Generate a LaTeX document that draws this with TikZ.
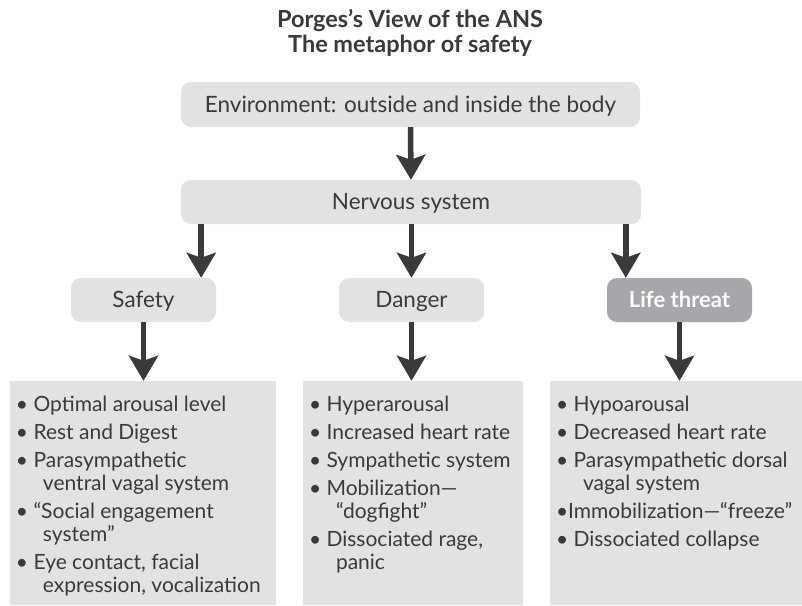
\documentclass[tikz,border=0pt]{standalone}
\usepackage{fontspec}
\setmainfont{Lato}
\usetikzlibrary{arrows.meta,calc}
\definecolor{boxgray}{HTML}{E1E2E4}
\definecolor{darkgray}{HTML}{A6A7AA}
\definecolor{ink}{HTML}{3A3A3A}
\definecolor{arrowc}{HTML}{3A3A3A}
\tikzset{
  rbox/.style={fill=boxgray, rounded corners=10pt, inner sep=0pt, text=ink,
    text height=20pt, text depth=5pt,
    font=\fontsize{22.5}{26}\selectfont},
  listbox/.style={fill=boxgray, inner sep=0pt},
  listtext/.style={inner sep=0pt, align=left, text=ink, anchor=north west,
    font=\fontsize{21}{23}\selectfont},
  bigarrow/.style={draw=arrowc, line width=5.5pt,
    -{Stealth[length=25pt,width=29pt,inset=5pt]}},
}
\newcommand{\ind}{\makebox[27pt]{}}
\begin{document}
\begin{tikzpicture}[x=1pt,y=-1pt]
\useasboundingbox (0,0) rectangle (802,605);
\fill[white] (0,0) rectangle (802,605);
% title
\node[font=\bfseries\fontsize{23.5}{25}\selectfont, text=ink, align=center, inner sep=0pt] (title) at (410,33)
  {Porges’s View of the ANS\\The metaphor of safety};
% top boxes
\node[rbox, minimum width=459pt, minimum height=45pt] (env) at (410.5,104.5) {Environment: outside and inside the body};
\node[rbox, minimum width=460pt, minimum height=44pt] (nerv) at (411,202) {Nervous system};
% middle boxes
\node[rbox, minimum width=145pt, minimum height=44pt] (safety) at (143.5,300) {Safety};
\node[rbox, minimum width=145pt, minimum height=44pt] (danger) at (411.5,300) {Danger};
\node[rbox, fill=darkgray, text=white, font=\bfseries\fontsize{22}{26}\selectfont, minimum width=145pt, minimum height=44pt] (life) at (679.5,300) {Life threat};
% bottom boxes
\node[listbox, minimum width=266pt, minimum height=224pt] (lbox) at (143,493) {};
\node[listbox, minimum width=220pt, minimum height=224pt] (mbox) at (413,493) {};
\node[listbox, minimum width=252pt, minimum height=224pt] (rbox) at (676,493) {};
% arrows
\draw[bigarrow] (env.south) -- (nerv.north);
\draw[bigarrow] ([xshift=-15pt]safety.north east |- nerv.south) -- ([xshift=-15pt]safety.north east);
\draw[bigarrow] (danger.north |- nerv.south) -- (danger.north);
\draw[bigarrow] ([xshift=19pt]life.north west |- nerv.south) -- ([xshift=19pt]life.north west);
\draw[bigarrow] (safety.south) -- (safety.south |- lbox.north);
\draw[bigarrow] (danger.south) -- (danger.south |- mbox.north);
\draw[bigarrow] (life.south) -- (life.south |- rbox.north);
% lists
\node[listtext] (ltext) at ($(lbox.north west)+(6,15)$)
  {• Optimal arousal level\\[5pt]
   • Rest and Digest\\[5pt]
   • Parasympathetic\\
   \ind ventral vagal system\\[5pt]
   • “Social engagement\\
   \ind system”\\[5pt]
   • Eye contact, facial\\
   \ind expression, vocalization};
\node[listtext] (mtext) at ($(mbox.north west)+(6,15)$)
  {• Hyperarousal\\[5pt]
   • Increased heart rate\\[5pt]
   • Sympathetic system\\[5pt]
   • Mobilization—\\
   \ind “dogfight”\\[5pt]
   • Dissociated rage,\\
   \ind panic};
\node[listtext] (rtext) at ($(rbox.north west)+(6,15)$)
  {• Hypoarousal\\[5pt]
   • Decreased heart rate\\[5pt]
   • Parasympathetic dorsal\\
   \ind vagal system\\[5pt]
   •Immobilization—“freeze”\\[5pt]
   • Dissociated collapse};
\end{tikzpicture}
\end{document}
